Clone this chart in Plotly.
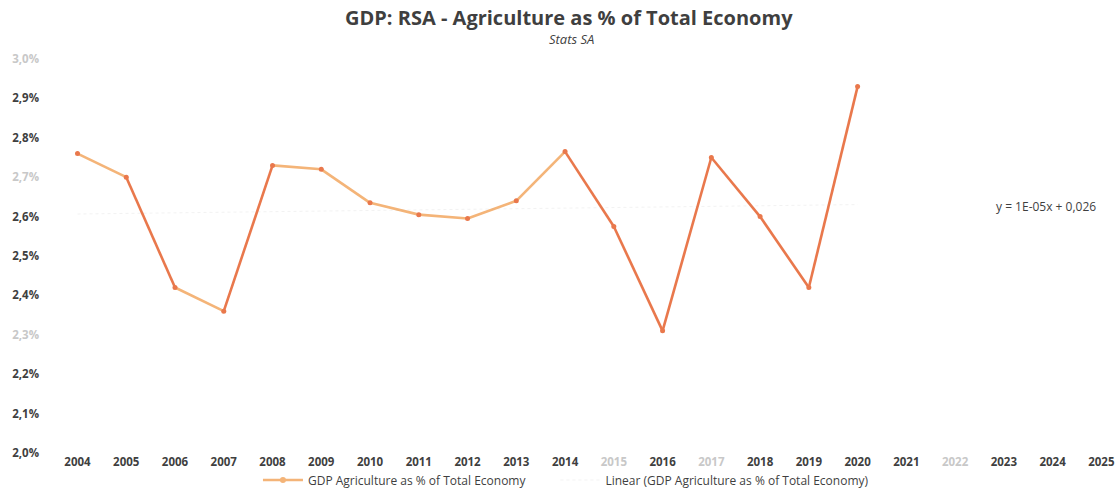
import numpy as np
import plotly.graph_objects as go

# Agriculture share of total GDP (%), Stats SA
years = [2004, 2005, 2006, 2007, 2008, 2009, 2010, 2011, 2012, 2013,
         2014, 2015, 2016, 2017, 2018, 2019, 2020]
agri_share = [2.76, 2.70, 2.42, 2.36, 2.73, 2.72, 2.635, 2.605, 2.595, 2.64,
              2.765, 2.575, 2.31, 2.75, 2.60, 2.42, 2.93]

axis_years = list(range(2004, 2026))
faint_years = {2015, 2017, 2022}
y_ticks = [2.0, 2.1, 2.2, 2.3, 2.4, 2.5, 2.6, 2.7, 2.8, 2.9, 3.0]
faint_y = {2.3, 2.7, 3.0}

LIGHT = "#F4B478"
DARK = "#E9784C"
TEXT = "#3f3f3f"
FAINT = "#c8c8c8"
NBSP = "\u00a0"

fig = go.Figure()

# line segments: steep moves drawn in the deeper orange
for i in range(len(years) - 1):
    steep = abs(agri_share[i + 1] - agri_share[i]) > 0.14
    fig.add_trace(go.Scatter(
        x=years[i:i + 2], y=agri_share[i:i + 2], mode="lines",
        line=dict(color=DARK if steep else LIGHT, width=2.6),
        showlegend=False, hoverinfo="skip"))

fig.add_trace(go.Scatter(
    x=years, y=agri_share, mode="markers",
    marker=dict(color=DARK, size=5), showlegend=False))

# legend entries
fig.add_trace(go.Scatter(
    x=[None], y=[None], mode="lines+markers",
    name="GDP Agriculture as % of Total Economy" + NBSP * 8,
    line=dict(color=LIGHT, width=2.6), marker=dict(color=LIGHT, size=6)))

# linear trend
idx = np.arange(1, len(years) + 1)
slope, intercept = np.polyfit(idx, agri_share, 1)
trend = slope * idx + intercept
fig.add_trace(go.Scatter(
    x=years, y=trend, mode="lines",
    name="Linear (GDP Agriculture as % of Total Economy)",
    line=dict(color="rgba(150,150,150,0.12)", width=1, dash="dot")))

def tick_label(text, faint):
    color = FAINT if faint else TEXT
    return f"<span style='color:{color}'>{text}</span>"

fig.update_layout(
    width=1120, height=490,
    margin=dict(l=58, r=4, t=59, b=37),
    paper_bgcolor="white", plot_bgcolor="white",
    separators=",.",
    font=dict(family="Open Sans, DejaVu Sans, sans-serif", color=TEXT, size=10),
    xaxis=dict(
        range=[2003.6, 2025.3], tickmode="array", tickvals=axis_years,
        ticktext=[tick_label(f"<b>{y}</b>", y in faint_years) for y in axis_years],
        showgrid=False, zeroline=False, showline=False, ticks="",
        tickfont=dict(size=11.5, color=TEXT), automargin=False),
    yaxis=dict(
        range=[2.0, 3.0], tickmode="array", tickvals=y_ticks,
        ticktext=[tick_label(f"<b>{v:.1f}%</b>".replace(".", ","), v in faint_y)
                  for v in y_ticks],
        showgrid=False, zeroline=False, showline=False, ticks="",
        ticklabelstandoff=18, automargin=False,
        tickfont=dict(size=11.5, color=TEXT)),
    legend=dict(orientation="h", xref="paper", x=0.189, xanchor="left",
                yref="container", y=10 / 490, yanchor="middle",
                bgcolor="rgba(0,0,0,0)",
                font=dict(size=12, color=TEXT), itemwidth=40),
    showlegend=True,
)

fig.add_annotation(
    text="<b>GDP: RSA - Agriculture as % of Total Economy</b>",
    xref="paper", yref="paper", x=0.5, y=1, yshift=42,
    xanchor="center", yanchor="middle", showarrow=False,
    font=dict(size=20, color=TEXT), xshift=-18)
fig.add_annotation(
    text="<i>Stats SA</i>", xref="paper", yref="paper", x=0.5, y=1, yshift=20,
    xanchor="center", yanchor="middle", showarrow=False,
    font=dict(size=13, color=TEXT), xshift=-16)
fig.add_annotation(
    text=f"y = {slope / 100:.0E}x + {intercept / 100:.3f}".replace(".", ","),
    xref="x", yref="y", x=2023.87, y=2.625, xanchor="center", yanchor="middle",
    showarrow=False, font=dict(size=12, color=TEXT))

fig.write_html("out.html")
